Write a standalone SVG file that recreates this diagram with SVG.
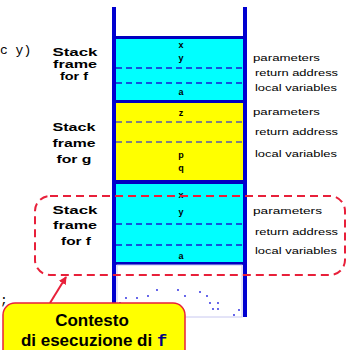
<svg xmlns="http://www.w3.org/2000/svg" width="347" height="350" viewBox="0 0 347 350">
<style>
.wall{fill:#0000d0}
.sep{fill:#0000c0}
.dash1{stroke:#1a1ad0;stroke-width:1.5;stroke-dasharray:6 4;fill:none}
.dash2{stroke:#5a5aa8;stroke-width:1.5;stroke-dasharray:6 4;fill:none}
.lbl{font-family:"Liberation Sans",Arial,sans-serif;font-weight:bold;font-size:10px;fill:#000;text-anchor:middle}
.rl{font-family:"Liberation Sans",Arial,sans-serif;font-size:9px;fill:#000}
.v{font-family:"Liberation Sans",Arial,sans-serif;font-weight:bold;font-size:9px;fill:#000;text-anchor:middle}
.code{font-family:"Liberation Mono","Courier New",monospace;font-size:13px;fill:#000}
.dot{fill:#2020e0}
.ct{font-family:"Liberation Sans",Arial,sans-serif;font-weight:bold;font-size:17px;fill:#000;text-anchor:middle}
</style>
<defs>
<marker id="ah" markerWidth="8" markerHeight="8" refX="7" refY="4" orient="auto" markerUnits="userSpaceOnUse">
<path d="M0,0 L8,4 L0,8 Z" fill="#e8203a"/>
</marker>
</defs>
<text class="code" x="0" y="54">c y)</text>
<text class="code" x="0" y="304" font-size="9">;</text>
<g id="stack">
<rect x="116" y="37" width="127" height="65" fill="#00ffff"/>
<rect x="116" y="102" width="127" height="80" fill="#ffff00"/>
<rect x="116" y="182" width="127" height="82" fill="#00ffff"/>
<rect x="112" y="7" width="4" height="310" class="wall"/>
<rect x="243" y="7" width="4" height="310" class="wall"/>
<rect x="116" y="36" width="127" height="3" class="sep"/>
<rect x="116" y="100" width="127" height="3" class="sep"/>
<rect x="116" y="180" width="127" height="4" class="sep"/>
<rect x="116" y="262" width="127" height="3" class="sep"/>
<rect x="117" y="265" width="125" height="52" fill="#fff" stroke="#c8c8f0" stroke-width="1"/>
</g>
<g id="frame-f1">
<line x1="116" y1="68" x2="243" y2="68" class="dash1"/>
<line x1="116" y1="83" x2="243" y2="83" class="dash1"/>
<text class="v" x="181" y="48" font-size="7">x</text>
<text class="v" x="181" y="61">y</text>
<text class="v" x="181" y="95">a</text>
<text class="lbl" x="75" y="56" textLength="45" lengthAdjust="spacingAndGlyphs">Stack</text>
<text class="lbl" x="75" y="68" textLength="44" lengthAdjust="spacingAndGlyphs">frame</text>
<text class="lbl" x="74" y="80" textLength="28" lengthAdjust="spacingAndGlyphs">for f</text>
<text class="rl" x="253" y="61" textLength="67" lengthAdjust="spacingAndGlyphs">parameters</text>
<text class="rl" x="255" y="76" textLength="83" lengthAdjust="spacingAndGlyphs">return address</text>
<text class="rl" x="255" y="91" textLength="82" lengthAdjust="spacingAndGlyphs">local variables</text>
</g>
<g id="frame-g">
<line x1="116" y1="122" x2="243" y2="122" class="dash2"/>
<line x1="116" y1="142" x2="243" y2="142" class="dash2"/>
<text class="v" x="181" y="116">z</text>
<text class="v" x="181" y="158" font-size="10">p</text>
<text class="v" x="181" y="171" font-size="10">q</text>
<text class="lbl" x="74" y="131" textLength="43" lengthAdjust="spacingAndGlyphs">Stack</text>
<text class="lbl" x="74" y="147" textLength="43" lengthAdjust="spacingAndGlyphs">frame</text>
<text class="lbl" x="74" y="163" textLength="35" lengthAdjust="spacingAndGlyphs">for g</text>
<text class="rl" x="253" y="115" textLength="67" lengthAdjust="spacingAndGlyphs">parameters</text>
<text class="rl" x="255" y="135" textLength="83" lengthAdjust="spacingAndGlyphs">return address</text>
<text class="rl" x="255" y="157" textLength="82" lengthAdjust="spacingAndGlyphs">local variables</text>
</g>
<g id="frame-f2">
<line x1="116" y1="224" x2="243" y2="224" class="dash1" stroke-width="2"/>
<line x1="116" y1="245" x2="243" y2="245" class="dash1"/>
<text class="v" x="181" y="198" font-size="7">x</text>
<text class="v" x="181" y="215">y</text>
<text class="v" x="181" y="259">a</text>
<text class="lbl" x="75" y="214" textLength="45" lengthAdjust="spacingAndGlyphs">Stack</text>
<text class="lbl" x="75" y="229" textLength="44" lengthAdjust="spacingAndGlyphs">frame</text>
<text class="lbl" x="76" y="245" textLength="30" lengthAdjust="spacingAndGlyphs">for f</text>
<text class="rl" x="253" y="214" textLength="69" lengthAdjust="spacingAndGlyphs">parameters</text>
<text class="rl" x="255" y="235" textLength="83" lengthAdjust="spacingAndGlyphs">return address</text>
<text class="rl" x="255" y="254" textLength="82" lengthAdjust="spacingAndGlyphs">local variables</text>
</g>
<g id="dots">
<circle class="dot" cx="120" cy="303" r="0.9"/>
<circle class="dot" cx="126" cy="298" r="0.9"/>
<circle class="dot" cx="137" cy="298" r="0.9"/>
<circle class="dot" cx="148" cy="296" r="0.9"/>
<circle class="dot" cx="157" cy="290" r="0.9"/>
<circle class="dot" cx="178" cy="290" r="0.9"/>
<circle class="dot" cx="185" cy="296" r="0.9"/>
<circle class="dot" cx="200" cy="292" r="0.9"/>
<circle class="dot" cx="207" cy="296" r="0.9"/>
<circle class="dot" cx="210" cy="303" r="0.9"/>
<circle class="dot" cx="218" cy="303" r="0.9"/>
<circle class="dot" cx="213" cy="309" r="0.9"/>
<circle class="dot" cx="218" cy="309" r="0.9"/>
<circle class="dot" cx="234" cy="315" r="0.9"/>
<circle class="dot" cx="239" cy="310" r="0.9"/>
</g>
<g id="context-box">
<rect x="35" y="196" width="310" height="79" rx="15" ry="15" fill="none" stroke="#e8203a" stroke-width="2" stroke-dasharray="8 5"/>
</g>
<g id="connectors">
<line x1="50" y1="303" x2="66" y2="277" stroke="#e8203a" stroke-width="2" marker-end="url(#ah)"/>
</g>
<g id="callout">
<rect x="3" y="303" width="182" height="70" rx="12" ry="12" fill="#ffff00" stroke="#e8203a" stroke-width="1.5"/>
<text class="ct" x="92" y="326">Contesto</text>
<text class="ct" x="94" y="346">di esecuzione di <tspan font-family="Liberation Mono,Courier New,monospace" fill="#000080">f</tspan></text>
</g>
</svg>
